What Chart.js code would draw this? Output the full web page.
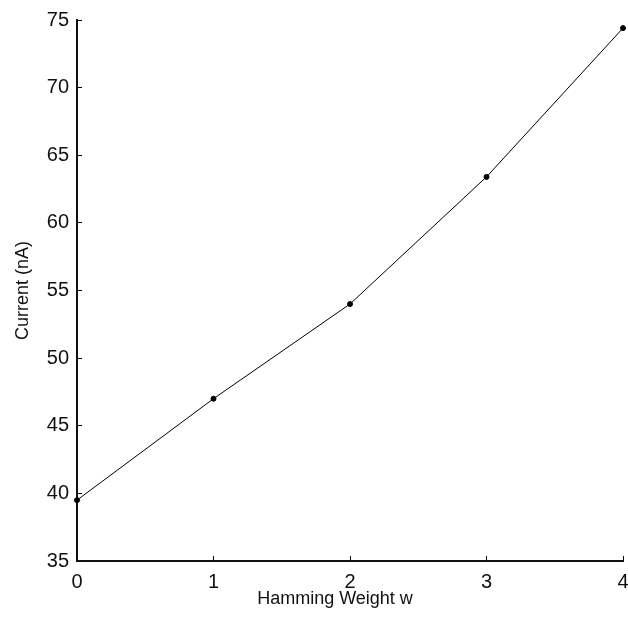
<!DOCTYPE html>
<html>
<head>
<meta charset="utf-8">
<script src="https://cdn.jsdelivr.net/npm/chart.js@4"></script>
<style>
  html, body { margin: 0; padding: 0; background: #fff; }
  #wrap { width: 628px; height: 619px; }
</style>
</head>
<body>
<div id="wrap"><canvas id="c" width="628" height="619"></canvas></div>
<script>
const hammingWeights = [0, 1, 2, 3, 4];
const currentNA = [39.5, 47.0, 54.0, 63.4, 74.4];
const xTicks = [0, 1, 2, 3, 4];
const yTicks = [35, 40, 45, 50, 55, 60, 65, 70, 75];
const xTitle = 'Hamming Weight w';
const yTitle = 'Current (nA)';

const FONT = "'Liberation Sans', Arial, sans-serif";

new Chart(document.getElementById('c'), {
  type: 'line',
  data: {
    datasets: [{
      data: hammingWeights.map((x, i) => ({ x: x, y: currentNA[i] })),
      borderColor: '#000',
      borderWidth: 1,
      pointRadius: 2.5,
      pointBackgroundColor: '#000',
      pointBorderColor: '#000',
      pointBorderWidth: 1,
      tension: 0,
      fill: false,
      clip: false
    }]
  },
  options: {
    responsive: false,
    animation: false,
    devicePixelRatio: 1,
    layout: { autoPadding: false, padding: { top: 20, right: 5, left: 0, bottom: 0 } },
    plugins: { legend: { display: false }, tooltip: { enabled: false } },
    scales: {
      x: {
        type: 'linear',
        min: 0, max: 4,
        afterBuildTicks: s => { s.ticks = xTicks.map(v => ({ value: v })); },
        afterFit: s => { s.height = 58; s.paddingLeft = 0; s.paddingRight = 0; },
        grid: { drawOnChartArea: false, drawTicks: true, tickLength: -5, color: '#000', lineWidth: 1 },
        border: { display: true, color: '#111', width: 2 },
        ticks: { color: '#111', font: { family: FONT, size: 20 }, padding: 14, maxRotation: 0 },
        title: { display: true, text: xTitle + '      ', color: '#111', font: { family: FONT, size: 18 }, padding: { top: 0, bottom: 9 } }
      },
      y: {
        type: 'linear',
        min: 35, max: 75,
        afterBuildTicks: s => { s.ticks = yTicks.map(v => ({ value: v })); },
        afterFit: s => { s.width = 77; s.paddingTop = 0; s.paddingBottom = 0; },
        grid: { drawOnChartArea: false, drawTicks: true, tickLength: -5, color: '#000', lineWidth: 1 },
        border: { display: true, color: '#111', width: 2 },
        ticks: { color: '#111', font: { family: FONT, size: 20 }, padding: 13 },
        title: { display: true, text: yTitle, color: '#111', font: { family: FONT, size: 18 }, padding: { top: 12, bottom: 0 } }
      }
    }
  }
});
</script>
</body>
</html>
